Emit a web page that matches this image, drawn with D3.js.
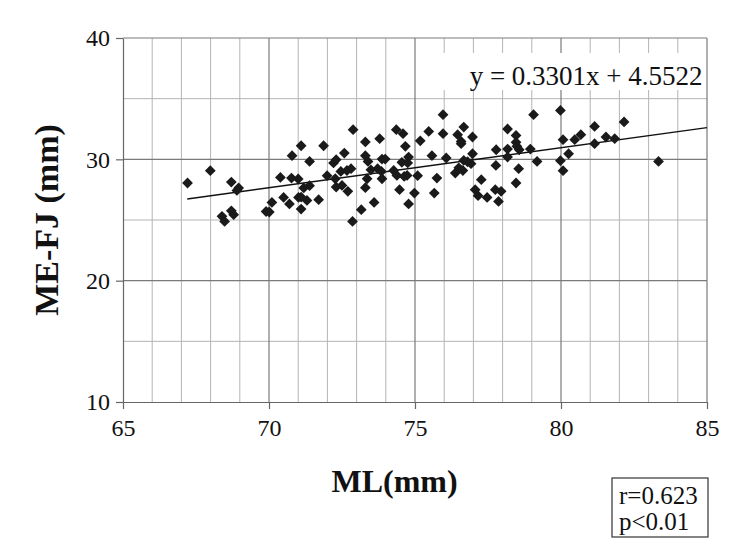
<!DOCTYPE html>
<html>
<head>
<meta charset="utf-8">
<script src="https://cdn.jsdelivr.net/npm/d3@7"></script>
<style>
  html, body { margin: 0; padding: 0; background: #fff; }
  #chart { width: 750px; height: 544px; }
  text { font-family: "Liberation Serif", "Times New Roman", serif; fill: #111; }
</style>
</head>
<body>
<div id="chart"></div>
<script>
// ML (mm) values
const mlValues = [
    67.21, 67.99, 68.71, 68.96, 68.90, 68.39, 68.48, 68.71, 68.79, 69.90,
    70.01, 70.10, 70.39, 70.50, 70.70, 70.77, 70.79, 71.10, 71.00, 71.01,
    71.10, 71.10, 71.19, 71.30, 71.39, 71.39, 71.70, 71.87, 71.99, 72.21,
    72.30, 72.27, 72.30, 72.50, 72.46, 72.58, 72.67, 72.70, 72.81, 72.88,
    72.86, 73.16, 73.30, 73.30, 73.39, 73.36, 73.30, 73.49, 73.60, 73.72,
    73.79, 73.87, 73.87, 73.98, 73.85, 74.27, 74.36, 74.38, 74.59, 74.55,
    74.67, 74.63, 74.78, 74.75, 74.47, 74.73, 74.98, 75.09, 74.78, 75.18,
    75.47, 75.58, 75.75, 75.66, 75.96, 75.96, 76.07, 76.38, 76.46, 76.67,
    76.58, 76.58, 76.67, 76.64, 76.92, 76.97, 76.97, 77.06, 77.16, 77.27,
    77.47, 77.75, 77.77, 77.78, 77.86, 77.95, 78.17, 78.17, 78.17, 78.46,
    78.46, 78.49, 78.57, 78.55, 78.46, 78.95, 79.06, 79.18, 79.98, 80.07,
    79.98, 80.07, 80.26, 80.47, 80.68, 81.15, 81.15, 81.54, 81.84, 82.16,
    83.34, 76.50, 76.80
];
// ME-FJ (mm) values, same order
const mefjValues = [
    28.05, 29.06, 28.13, 27.64, 27.44, 25.30, 24.88, 25.76, 25.44, 25.70,
    25.66, 26.45, 28.51, 26.86, 26.32, 28.46, 30.30, 31.12, 28.38, 26.86,
    26.89, 25.90, 27.64, 26.61, 29.83, 27.83, 26.67, 31.12, 28.65, 29.70,
    29.97, 28.40, 27.72, 27.85, 29.00, 30.52, 29.08, 27.36, 29.23, 32.44,
    24.88, 25.85, 31.43, 30.30, 29.83, 28.40, 27.66, 29.14, 26.45, 29.23,
    31.70, 30.02, 28.40, 30.02, 29.00, 29.08, 32.44, 28.67, 32.11, 29.75,
    31.07, 28.59, 30.19, 29.70, 27.50, 28.67, 27.22, 28.65, 26.32, 31.53,
    32.30, 30.30, 28.46, 27.22, 33.68, 32.11, 30.11, 28.87, 32.03, 32.66,
    31.48, 31.29, 29.91, 29.08, 29.64, 31.84, 30.46, 27.50, 27.00, 28.32,
    26.86, 27.50, 29.50, 30.79, 26.53, 27.36, 32.50, 30.85, 30.19, 31.97,
    31.40, 31.07, 30.79, 29.23, 28.05, 30.85, 33.68, 29.83, 34.03, 31.62,
    29.89, 29.06, 30.46, 31.62, 32.03, 32.71, 31.29, 31.84, 31.70, 33.08,
    29.83, 29.30, 29.80
];

const xTicks = [65, 70, 75, 80, 85];
const yTicks = [10, 20, 30, 40];
const fitSlope = 0.3301;
const fitIntercept = 4.5522;
const fitRange = [67.2, 85];
const equationLabel = "y = 0.3301x + 4.5522";
const statsLines = ["r=0.623", "p<0.01"];

function drawScatter() {
    const width = 750, height = 544;
    const margin = { top: 38, right: 43, bottom: 142, left: 123 };
    const w = width - margin.left - margin.right;
    const h = height - margin.top - margin.bottom;

    const svg = d3.select("#chart").append("svg")
        .attr("width", width)
        .attr("height", height);

    const g = svg.append("g")
        .attr("transform", `translate(${margin.left},${margin.top})`);

    const x = d3.scaleLinear().domain([65, 85]).range([0, w]);
    const y = d3.scaleLinear().domain([10, 40]).range([h, 0]);

    // minor grid (every 1 on x, every 5 on y)
    g.append("g").selectAll("line")
        .data(d3.range(66, 85).filter(v => v % 5 !== 0))
        .join("line")
        .attr("x1", d => x(d)).attr("x2", d => x(d))
        .attr("y1", 0).attr("y2", h)
        .attr("stroke", "#b4b4b4").attr("stroke-width", 1);

    g.append("g").selectAll("line")
        .data([15, 25, 35])
        .join("line")
        .attr("x1", 0).attr("x2", w)
        .attr("y1", d => y(d)).attr("y2", d => y(d))
        .attr("stroke", "#b4b4b4").attr("stroke-width", 1);

    // major grid
    g.append("g").selectAll("line")
        .data([70, 75, 80, 85])
        .join("line")
        .attr("x1", d => x(d)).attr("x2", d => x(d))
        .attr("y1", 0).attr("y2", h)
        .attr("stroke", "#7a7a7a").attr("stroke-width", 1.2);

    g.append("g").selectAll("line")
        .data([20, 30, 40])
        .join("line")
        .attr("x1", 0).attr("x2", w)
        .attr("y1", d => y(d)).attr("y2", d => y(d))
        .attr("stroke", "#7a7a7a").attr("stroke-width", 1.2);

    // white box behind the equation
    g.append("rect")
        .attr("x", x(75.1)).attr("y", 15)
        .attr("width", x(84.9) - x(75.1)).attr("height", 37)
        .attr("fill", "#fff");

    // axes
    const xAxis = g.append("g")
        .attr("transform", `translate(0,${h})`)
        .call(d3.axisBottom(x).tickValues(xTicks).tickSize(7).tickPadding(9).tickSizeOuter(0));
    const yAxis = g.append("g")
        .call(d3.axisLeft(y).tickValues(yTicks).tickSize(7).tickPadding(6).tickSizeOuter(0));

    [xAxis, yAxis].forEach(a => {
        a.select(".domain").attr("stroke", "#666").attr("stroke-width", 1.2);
        a.selectAll(".tick line").attr("stroke", "#666").attr("stroke-width", 1.2);
        a.selectAll(".tick text")
            .style("font-family", "Liberation Serif")
            .style("font-size", "24px")
            .attr("fill", "#111");
    });
    xAxis.selectAll(".tick text").attr("dy", "0.75em");

    // trend line
    g.append("line")
        .attr("x1", x(fitRange[0]))
        .attr("y1", y(fitSlope * fitRange[0] + fitIntercept))
        .attr("x2", x(fitRange[1]))
        .attr("y2", y(fitSlope * fitRange[1] + fitIntercept))
        .attr("stroke", "#111").attr("stroke-width", 1.4);

    // points
    const diamond = d3.symbol().type(d3.symbolSquare).size(58);
    g.append("g").selectAll("path")
        .data(mlValues.map((v, i) => ({ ml: v, mefj: mefjValues[i] })))
        .join("path")
        .attr("d", diamond)
        .attr("transform", d => `translate(${x(d.ml)},${y(d.mefj)}) rotate(45)`)
        .attr("fill", "#1a1a1a");

    // equation
    g.append("text")
        .attr("x", x(84.85))
        .attr("y", 47)
        .attr("text-anchor", "end")
        .style("font-size", "27px")
        .text(equationLabel);

    // axis titles
    svg.append("text")
        .attr("x", margin.left + x(74.3))
        .attr("y", 492)
        .attr("text-anchor", "middle")
        .style("font-size", "32px")
        .style("font-weight", "bold")
        .text("ML(mm)");

    svg.append("text")
        .attr("transform", `translate(58,${margin.top + y(25)}) rotate(-90)`)
        .attr("text-anchor", "middle")
        .style("font-size", "34px")
        .style("font-weight", "bold")
        .text("ME-FJ (mm)");

    // r / p box
    const box = svg.append("g").attr("transform", "translate(612,478)");
    box.append("rect")
        .attr("width", 96).attr("height", 59)
        .attr("fill", "#fff").attr("stroke", "#333").attr("stroke-width", 1.2);
    box.selectAll("text")
        .data(statsLines)
        .join("text")
        .attr("x", 7)
        .attr("y", (d, i) => 26 + i * 26)
        .style("font-size", "25px")
        .text(d => d);
}

drawScatter();
</script>
</body>
</html>
